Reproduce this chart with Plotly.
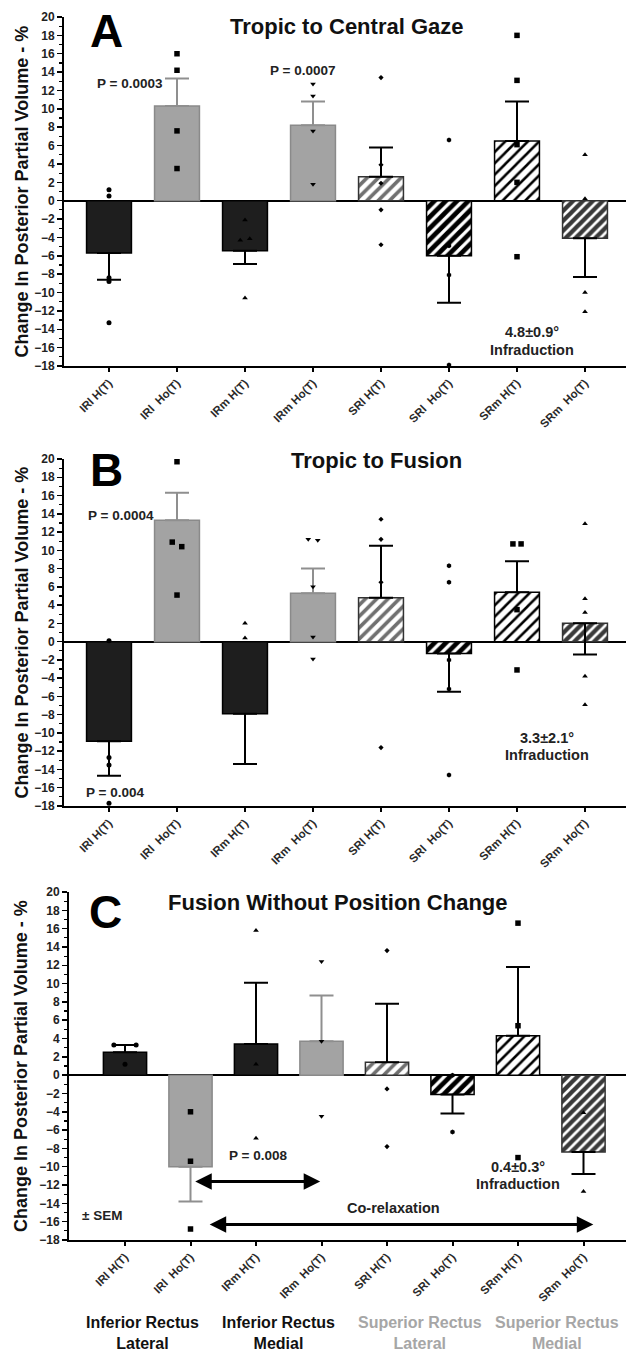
import plotly.graph_objects as go

W, H = 626, 1353

# ---------------- data ----------------
TICKS_A = ["IRl H(T)", "IRl\u00a0\u00a0Ho(T)", "IRm H(T)", "IRm Ho(T)",
           "SRl H(T)", "SRl\u00a0\u00a0Ho(T)", "SRm H(T)", "SRm\u00a0\u00a0Ho(T)"]
TICKS_BC = ["IRl H(T)", "IRl\u00a0\u00a0Ho(T)", "IRm H(T)", "IRm\u00a0\u00a0Ho(T)",
            "SRl H(T)", "SRl\u00a0\u00a0Ho(T)", "SRm H(T)", "SRm\u00a0\u00a0Ho(T)"]

# Panel A: Tropic to Central Gaze
A_MEAN = [-5.7, 10.3, -5.45, 8.2, 2.6, -6.0, 6.5, -4.1]
A_SEM = [-2.9, 3.0, -1.45, 2.6, 3.2, -5.1, 4.3, -4.2]   # sign = direction drawn
A_POINTS = [
    [1.2, 0.5, -8.4, -8.8, -13.3],
    [16.0, 14.2, 7.6, 3.5],
    [-2.1, -4.3, -4.15, -10.6],
    [12.7, 11.4, 7.6, 1.8],
    [13.4, 3.9, 1.9, -1.0, -4.8],
    [6.6, -4.9, -8.1, -17.9],
    [18.0, 13.1, 6.1, 2.0, -6.1],
    [5.0, 0.2, -10.0, -12.1],
]

# Panel B: Tropic to Fusion
B_MEAN = [-10.9, 13.3, -7.9, 5.3, 4.8, -1.3, 5.4, 2.0]
B_SEM = [-3.8, 3.0, -5.5, 2.7, 5.7, -4.2, 3.4, -3.4]
B_POINTS = [
    [0.1, -12.7, -13.5, -17.7],
    [19.7, 10.9, 10.4, 5.1],
    [2.0, 0.4],
    [11.2, 11.1, 6.0, 0.5, -1.9],
    [13.4, 11.2, 6.5, -11.6],
    [8.3, 6.5, -2.0, -5.2, -14.6],
    [10.7, 10.7, 3.5, -3.1],
    [12.9, 4.7, 3.2, -3.8, -6.9],
]

# Panel C: Fusion Without Position Change
C_MEAN = [2.5, -10.0, 3.4, 3.7, 1.4, -2.1, 4.3, -8.4]
C_SEM = [0.8, -3.8, 6.7, 5.0, 6.4, -2.1, 7.5, -2.4]
C_POINTS = [
    [3.3, 3.3, 1.2],
    [-4.0, -9.4, -16.8],
    [15.8, 1.2, -6.9],
    [12.4, 3.7, -4.5],
    [13.6, -1.5, -7.8],
    [0.0, -6.2],
    [16.6, 5.4, -9.0],
    [-4.1, -12.7],
]

GROUPS = ["Inferior Rectus<br>Lateral", "Inferior Rectus<br>Medial",
          "Superior Rectus<br>Lateral", "Superior Rectus<br>Medial"]

# ---------------- styles ----------------
FONT = "Liberation Sans, Arial, sans-serif"
BAR_STYLE = [
    dict(color="#1e1e1e", line="#000000", err="#000000", pat=None),
    dict(color="#a3a3a3", line="#8a8a8a", err="#8f8f8f", pat=None),
    dict(color="#1e1e1e", line="#000000", err="#000000", pat=None),
    dict(color="#a3a3a3", line="#8a8a8a", err="#8f8f8f", pat=None),
    dict(color="#ffffff", line="#333333", err="#000000", pat=dict(fg="#707070", size=8, sol=0.45)),
    dict(color="#ffffff", line="#000000", err="#000000", pat=dict(fg="#000000", size=8, sol=0.6)),
    dict(color="#ffffff", line="#000000", err="#000000", pat=dict(fg="#000000", size=8, sol=0.32)),
    dict(color="#ffffff", line="#333333", err="#000000", pat=dict(fg="#3a3a3a", size=7, sol=0.62)),
]
SYMBOLS = ["circle", "square", "triangle-up", "triangle-down",
           "diamond", "hexagon", "square", "triangle-up"]
SIZES = [5, 5.5, 5, 5, 4, 5, 5.5, 5]

# horizontal dodge for overlapping points (layout only)
DODGE = {
    ("A", 2): [0, -0.07, 0.07, 0],
    ("B", 1): [0, -0.07, 0.07, 0],
    ("B", 3): [-0.07, 0.07, 0, 0, 0],
    ("B", 6): [-0.06, 0.06, 0, 0],
    ("C", 0): [-0.17, 0.17, 0],
}

# pixel geometry of each panel: (key, ticks, means, sems, points, top, bottom, axis_left, first_cat, step)
PANELS = [
    ("A", TICKS_A, A_MEAN, A_SEM, A_POINTS, 17, 366, 64, 109, 68.0),
    ("B", TICKS_BC, B_MEAN, B_SEM, B_POINTS, 459, 806, 64, 109, 68.0),
    ("C", TICKS_BC, C_MEAN, C_SEM, C_POINTS, 892, 1240, 69, 125, 65.5),
]

fig = go.Figure()
layout = dict(
    width=W, height=H, margin=dict(l=0, r=0, t=0, b=0, autoexpand=False),
    paper_bgcolor="white", plot_bgcolor="white",
    showlegend=False, barmode="overlay",
    font=dict(family=FONT, color="#000000"),
)

annotations = []


def px(x, y):
    return x / W, 1 - y / H


def txt(x, y, text, size, color="#111111", xanchor="center", yanchor="middle", angle=0):
    ax, ay = px(x, y)
    annotations.append(dict(x=ax, y=ay, xref="paper", yref="paper", text=text,
                            showarrow=False, xanchor=xanchor, yanchor=yanchor,
                            textangle=angle,
                            font=dict(family=FONT, size=size, color=color, weight="bold")))


for pi, (key, ticks, means, sems, points, top, bot, left, c0, step) in enumerate(PANELS):
    n = "" if pi == 0 else str(pi + 1)
    xa, ya = "x" + n, "y" + n
    xr = [(left - c0) / step, (W - c0) / step]
    layout["xaxis" + n] = dict(
        domain=[left / W, 1], range=xr, anchor=ya, automargin=False,
        tickvals=list(range(len(ticks))), ticktext=ticks, tickangle=-45,
        showline=True, linecolor="#000000", linewidth=2,
        ticks="outside", ticklen=4, tickwidth=2, tickcolor="#000000",
        showgrid=False, zeroline=False,
        tickfont=dict(family=FONT, size=11.5, color="#2a2a2a", weight="bold"),
    )
    layout["yaxis" + n] = dict(
        domain=[1 - bot / H, 1 - top / H], range=[-18, 20], anchor=xa, automargin=False,
        tick0=0, dtick=2, showline=True, linecolor="#000000", linewidth=2,
        ticks="outside", ticklen=5, tickwidth=1.5, tickcolor="#000000",
        minor=dict(dtick=1, ticks="outside", ticklen=3, tickwidth=1.2, tickcolor="#000000"),
        showgrid=False, zeroline=True, zerolinecolor="#000000", zerolinewidth=2,
        tickfont=dict(family=FONT, size=12, color="#222222", weight="bold"),
    )
    for i, (m, s) in enumerate(zip(means, sems)):
        st = BAR_STYLE[i]
        marker = dict(color=st["color"], line=dict(color=st["line"], width=1.5))
        if st["pat"]:
            marker["pattern"] = dict(shape="/", fgcolor=st["pat"]["fg"], bgcolor=st["color"],
                                     size=st["pat"]["size"], solidity=st["pat"]["sol"],
                                     fillmode="replace", fgopacity=1)
        up = s if s > 0 else 0
        dn = -s if s < 0 else 0
        fig.add_trace(go.Bar(
            x=[i], y=[m], width=0.66, marker=marker, xaxis=xa, yaxis=ya,
            error_y=dict(type="data", symmetric=False, array=[up], arrayminus=[dn],
                         color=st["err"], thickness=2, width=12),
        ))
    for i, pts in enumerate(points):
        offs = DODGE.get((key, i), [0] * len(pts))
        fig.add_trace(go.Scatter(
            x=[i + o for o in offs], y=pts, mode="markers", xaxis=xa, yaxis=ya,
            cliponaxis=False,
            marker=dict(symbol=SYMBOLS[i], size=SIZES[i], color="#000000"),
        ))
    # y-axis title
    txt(21, (top + bot) / 2, "Change In Posterior Partial Volume - %", 18,
        color="#111111", angle=-90)

# Panel letters and titles
txt(106, 31, "A", 46, color="#000000")
txt(347, 27, "Tropic to Central Gaze", 22)
txt(106, 470, "B", 46, color="#000000")
txt(376, 461, "Tropic to Fusion", 22)
txt(105, 912, "C", 46, color="#000000")
txt(338, 902, "Fusion Without Position Change", 22)

# Panel A notes
txt(130, 83, "P = 0.0003", 13.5, color="#222222")
txt(302, 70, "P = 0.0007", 13.5, color="#222222")
txt(532, 332, "4.8±0.9°", 14.5, color="#222222")
txt(532, 350, "Infraduction", 14.5, color="#222222")

# Panel B notes
txt(121, 515, "P = 0.0004", 13.5, color="#222222")
txt(115, 792, "P = 0.004", 13.5, color="#222222")
txt(547, 738, "3.3±2.1°", 14.5, color="#222222")
txt(547, 755, "Infraduction", 14.5, color="#222222")

# Panel C notes
txt(258, 1155, "P = 0.008", 13.5, color="#222222")
txt(518, 1167, "0.4±0.3°", 14.5, color="#222222")
txt(518, 1184, "Infraduction", 14.5, color="#222222")
txt(393, 1208, "Co-relaxation", 14.5, color="#222222")
txt(102, 1215, "± SEM", 13.5, color="#222222")

# double-headed arrows in panel C (data coordinates of panel C)
for (x0, x1, y) in [(1.05, 2.98, -11.6), (1.27, 7.15, -16.3)]:
    annotations.append(dict(
        x=x1, y=y, ax=x0, ay=y, xref="x3", yref="y3", axref="x3", ayref="y3",
        text="", showarrow=True, arrowhead=2, arrowside="end+start",
        arrowwidth=3, arrowsize=1.1, arrowcolor="#000000", standoff=0, startstandoff=0,
    ))

# group labels under panel C
for gx, g, col in zip([142, 278, 420, 557], GROUPS,
                      ["#111111", "#111111", "#a6a6a6", "#a6a6a6"]):
    txt(gx, 1333, g, 16, color=col)

layout["annotations"] = annotations
fig.update_layout(**layout)
fig.write_html("out.html", config={"displayModeBar": False, "staticPlot": True},
               post_script="document.body.style.margin='0';document.body.style.overflow='hidden';")
